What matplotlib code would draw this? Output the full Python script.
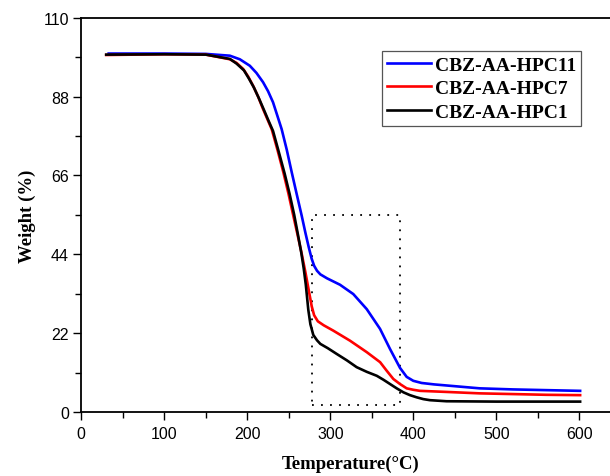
import matplotlib
matplotlib.use("Agg")
import matplotlib.pyplot as plt
from matplotlib.ticker import MultipleLocator
from matplotlib.patches import Rectangle

# ---- data ----
t_hpc11 = [33, 100, 150, 179, 191, 203, 211, 219, 225, 231, 236, 241.4, 247.5, 253.5, 259.5,
           265.5, 270, 274, 277.5, 280.5, 284, 288, 296, 311.7, 327.7, 343.9, 359.9, 371.9, 384,
           392, 400, 410, 425, 450, 480, 520, 560, 601]
w_hpc11 = [100.0, 100.0, 99.9, 99.4, 98.4, 96.6, 94.6, 92.0, 89.5, 86.4, 82.8, 78.9, 73.2, 66.9,
           60.8, 54.8, 50.0, 46.0, 42.8, 40.8, 39.4, 38.4, 37.3, 35.5, 32.9, 28.7, 23.2, 17.6,
           12.3, 9.8, 8.7, 8.1, 7.7, 7.2, 6.6, 6.3, 6.1, 5.9]

t_hpc7 = [30, 100, 150, 179, 187, 195, 201, 207, 213, 219, 224, 229.4, 236.5, 243.4, 249.5,
          255.4, 260.5, 265.5, 270, 274, 277.6, 280.5, 285, 292, 303.6, 323.7, 343.9, 360, 368,
          376, 384, 392, 400, 408, 440, 480, 520, 560, 601]
w_hpc7 = [99.6, 99.8, 99.7, 98.4, 97.4, 95.7, 93.6, 91.0, 88.0, 84.5, 81.8, 78.9, 73.0, 66.9,
          61.0, 54.8, 49.5, 44.2, 39.0, 34.0, 29.5, 27.0, 25.3, 24.2, 22.7, 19.9, 16.7, 13.9,
          11.5, 9.2, 7.8, 6.6, 6.2, 5.9, 5.6, 5.2, 5.0, 4.8, 4.7]

t_hpc1 = [30, 100, 150, 179, 187, 196, 202, 208, 214, 220, 225.5, 231, 238, 245, 251, 256.5,
          261, 265, 268, 270.5, 273.5, 276, 279.5, 284, 288, 297, 307.7, 320, 331.8, 344, 356,
          364, 372, 380, 388, 396, 404, 412, 420, 440, 500, 601]
w_hpc1 = [99.7, 99.8, 99.7, 98.5, 97.2, 95.3, 93.0, 90.5, 87.5, 84.3, 81.3, 78.4, 72.5, 66.5,
          60.8, 55.0, 49.5, 44.5, 40.0, 35.5, 28.5, 24.5, 21.5, 20.0, 19.0, 17.8, 16.2, 14.4,
          12.5, 11.2, 10.1, 9.0, 7.8, 6.6, 5.5, 4.7, 4.1, 3.6, 3.3, 3.0, 2.9, 2.9]

series_labels = ["CBZ-AA-HPC11", "CBZ-AA-HPC7", "CBZ-AA-HPC1"]
series_colors = ["#0000ff", "#ff0000", "#000000"]

box_t = [278.3, 384.0]
box_w = [2.0, 55.0]

y_ticks = [0, 22, 44, 66, 88, 110]
x_ticks = [0, 100, 200, 300, 400, 500, 600]

# ---- figure ----
fig = plt.figure(figsize=(6.10, 4.77), dpi=100)
ax = fig.add_axes([81.3 / 610, 1 - 413 / 477, 539.5 / 610, (413 - 18.7) / 477])

for t, w, lab, c in zip([t_hpc11, t_hpc7, t_hpc1], [w_hpc11, w_hpc7, w_hpc1],
                        series_labels, series_colors):
    ax.plot(t, w, color=c, lw=1.9, label=lab, solid_joinstyle="round")

ax.add_patch(Rectangle((box_t[0], box_w[0]), box_t[1] - box_t[0], box_w[1] - box_w[0],
                       fill=False, ls=(0, (1, 4)), lw=1.3, ec="black"))

ax.set_xlim(0, 650)
ax.set_ylim(0, 110)
ax.set_xticks(x_ticks)
ax.set_yticks(y_ticks)
ax.xaxis.set_minor_locator(MultipleLocator(50))
ax.yaxis.set_minor_locator(MultipleLocator(11))
ax.tick_params(which="major", direction="out", length=6, width=1.0, labelsize=11.5,
               colors="black", pad=3)
ax.tick_params(which="minor", direction="out", length=4, width=1.0)
ax.tick_params(axis="x", which="major", pad=4)
for lbl in ax.get_xticklabels() + ax.get_yticklabels():
    lbl.set_fontfamily("Liberation Sans")
for s in ax.spines.values():
    s.set_linewidth(1.3)

ax.set_xlabel("Temperature(°C)", fontfamily="Liberation Serif", fontweight="bold",
              fontsize=13.5, labelpad=10)
ax.set_ylabel("Weight (%)", fontfamily="Liberation Serif", fontweight="bold",
              fontsize=13.5, labelpad=5)

leg = ax.legend(loc="upper left", bbox_to_anchor=((381.7 - 81.3) / 539.5, 1 - (52.3 - 18.7) / 394.3),
                prop={"family": "Liberation Serif", "weight": "bold", "size": 14},
                frameon=True, fancybox=False, framealpha=1, edgecolor="#555555",
                handlelength=2.3, handletextpad=0.2, borderpad=0.25, labelspacing=0.3,
                borderaxespad=0)
leg.get_frame().set_linewidth(0.9)

fig.savefig("out.png", dpi=100)
